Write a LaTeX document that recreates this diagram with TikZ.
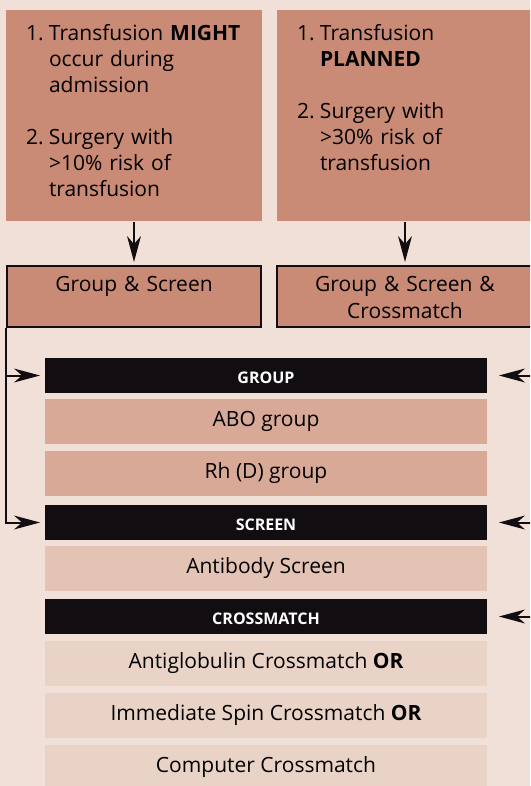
\documentclass[tikz,border=0pt]{standalone}
\usepackage{fontspec}
\setmainfont{Open Sans}
\usetikzlibrary{arrows.meta}

\definecolor{pagepink}{HTML}{F0E0D8}
\definecolor{salmon}{HTML}{C98A76}
\definecolor{rowdark}{HTML}{D9A998}
\definecolor{rowmid}{HTML}{E3C3B4}
\definecolor{rowlight}{HTML}{E9D2C6}
\definecolor{inkblack}{HTML}{110D10}

\begin{document}
\begin{tikzpicture}[x=1pt,y=-1pt,line width=2pt]
  \tikzset{feed/.style={draw=inkblack,-{Stealth[length=26pt,width=14pt,inset=8pt,line width=0pt]}}}
  \tikzstyle{needbox}=[fill=salmon,anchor=north,inner xsep=20pt,inner ysep=0pt,text width=216pt,text height=31pt,text depth=180pt,align=left,font=\fontsize{21pt}{26pt}\selectfont]
  \tikzstyle{samplebox}=[draw=inkblack,fill=salmon,anchor=north,inner sep=0pt,text height=25pt,text depth=36pt,align=center,font=\fontsize{21pt}{27pt}\selectfont]
  \tikzstyle{barbox}=[fill=inkblack,text=white,minimum width=442pt,minimum height=35pt,inner sep=0pt,text height=25pt,text depth=10pt,font=\bfseries\fontsize{16pt}{18pt}\selectfont]
  \tikzstyle{rowbox}=[minimum width=442pt,minimum height=45pt,inner sep=0pt,font=\fontsize{21pt}{26pt}\selectfont]

  \useasboundingbox (0,0) rectangle (530,786);
  \clip (0,0) rectangle (530,786);
  \fill[pagepink] (0,0) rectangle (530,786);

  % when is blood needed
  \node[needbox] (T_1) at (134,9) {\begin{tabular}[t]{@{}p{23pt}@{}l@{}}
      1. & Transfusion \textbf{MIGHT}\\ & occur during\\ & admission\\ & \\
      2. & Surgery with\\ & >10\% risk of\\ & transfusion
    \end{tabular}};
  \node[needbox] (T_2) at (405,9) {\begin{tabular}[t]{@{}p{23pt}@{}l@{}}
      1. & Transfusion\\ & \textbf{PLANNED}\\ & \\
      2. & Surgery with\\ & >30\% risk of\\ & transfusion
    \end{tabular}};

  \node[samplebox,text width=254pt] (S_1) at (134,265) {Group \& Screen};
  \node[samplebox,text width=256pt] (S_2) at (405,265) {Group \& Screen \&\\Crossmatch};

  % tests
  \node[barbox,anchor=north] (B_1) at (266,357) {GROUP};
  \node[rowbox,fill=rowdark] (R_1) at (266,421.5) {ABO group};
  \node[rowbox,fill=rowdark] (R_2) at (266,473.5) {Rh (D) group};
  \node[barbox,anchor=north] (B_2) at (266,504) {SCREEN};
  \node[rowbox,fill=rowmid] (R_3) at (266,568.5) {Antibody Screen};
  \node[barbox,anchor=north] (B_3) at (266,598) {CROSSMATCH};
  \node[rowbox,fill=rowlight] (R_4) at (266,663.5) {Antiglobulin Crossmatch \textbf{OR}};
  \node[rowbox,fill=rowlight] (R_5) at (266,715.5) {Immediate Spin Crossmatch \textbf{OR}};
  \node[rowbox,fill=rowlight] (R_6) at (266,767.5) {Computer Crossmatch};

  \draw[feed,shorten >=3pt] (T_1) -- (S_1);
  \draw[feed,shorten >=3pt] (T_2) -- (S_2);

  \draw[feed,shorten >=4pt] (S_1.south west) |- (B_1);
  \draw[feed,shorten >=4pt] (S_1.south west) |- (B_2);

  \draw[feed,shorten >=11pt] (B_1 -| S_2.east) -- (B_1);
  \draw[feed,shorten >=11pt] (B_2 -| S_2.east) -- (B_2);
  \draw[feed,shorten >=11pt] (B_3 -| S_2.east) -- (B_3);
\end{tikzpicture}
\end{document}
